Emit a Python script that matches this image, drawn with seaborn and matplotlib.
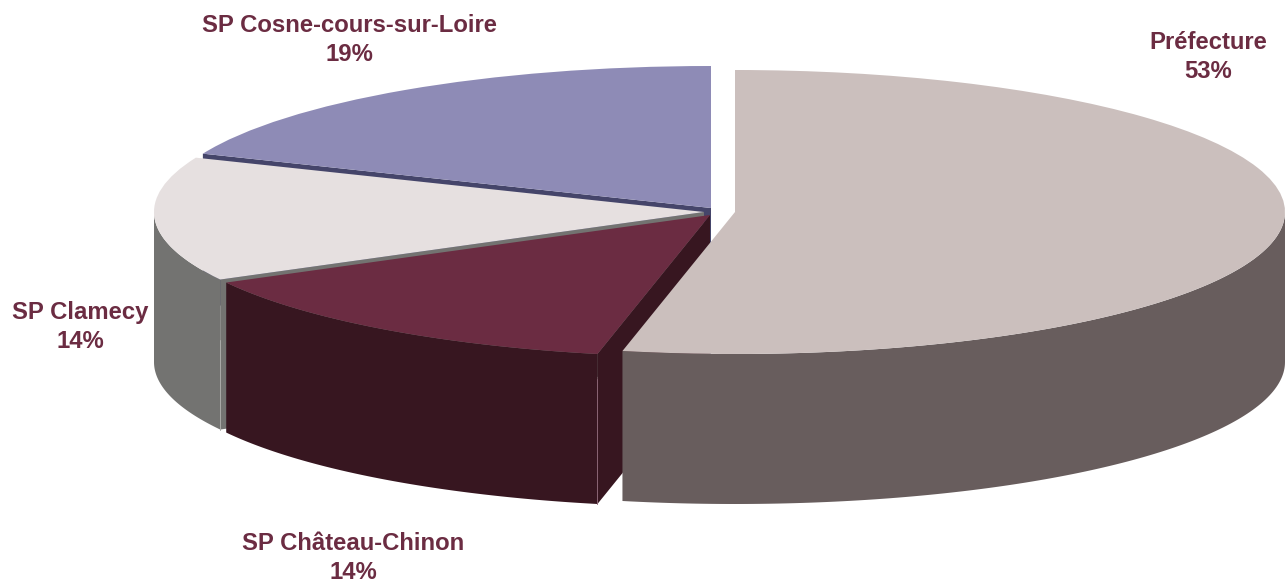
import numpy as np
import matplotlib
matplotlib.use("Agg")
import matplotlib.pyplot as plt
import seaborn as sns

# data
names = ["Préfecture", "SP Château-Chinon", "SP Clamecy", "SP Cosne-cours-sur-Loire"]
shares = [53.28, 13.83, 14.14, 18.75]

# colours
top_colors = ["#CBBFBD", "#6B2C42", "#E6E0E0", "#8E8BB6"]
side_colors = ["#685D5D", "#371620", "#737371", "#45456A"]
text_color = "#6B2C42"

# layout in pixels
W, H = 1285, 584
RX, RY, DEPTH = 550, 142, 150
centers = [(735, 212), (710, 215), (704, 212), (711, 208)]
label_pos = [(1208, 57), (353, 558), (80, 327), (349, 40)]

sns.set_theme(style="white")
plt.rcParams["font.family"] = ["Liberation Sans", "DejaVu Sans"]

k = RX / RY  # y data units per pixel, so that a round pie is seen squashed
Y = lambda py: (H - np.asarray(py, dtype=float)) * k

fig = plt.figure(figsize=(W / 100, H / 100), dpi=100)
ax = fig.add_axes([0, 0, 1, 1])

wedges, _ = ax.pie(shares, startangle=90, counterclock=False, radius=RX,
                   colors=sns.color_palette(top_colors),
                   wedgeprops=dict(linewidth=0))
ax.set_aspect("auto")
ax.set_xlim(0, W)
ax.set_ylim(0, H * k)
ax.set_axis_off()

edges = np.concatenate([[0], np.cumsum(shares)]) / np.sum(shares) * 360


def rim(i, angles):
    cx, cy = centers[i]
    t = np.radians(angles)
    return cx + RX * np.sin(t), cy - RY * np.cos(t)


def outer_side(i, a, b, z):
    x, y = rim(i, np.linspace(a, b, 120))
    ax.fill(np.r_[x, x[::-1]], Y(np.r_[y, y[::-1] + DEPTH]),
            color=side_colors[i], lw=0, zorder=z)


def cut_face(i, a, z):
    cx, cy = centers[i]
    x, y = rim(i, a)
    ax.fill([cx, x, x, cx], Y([cy, y, y + DEPTH, cy + DEPTH]),
            color=side_colors[i], lw=0, zorder=z)


def seam(i, a, lead, color, z):
    x, y = rim(i, a)
    ax.plot([x, x], Y([y + lead, y + DEPTH]), color=color, lw=0.7, zorder=z)


# back to front: Cosne, Clamecy, Château, Préfecture
cut_face(3, edges[3], 1)
wedges[3].set_center((centers[3][0], Y(centers[3][1])))
wedges[3].set_zorder(2)

outer_side(2, edges[2], 270, 3)
cut_face(2, edges[2], 3)
seam(2, edges[2], 60, "#A9A9A6", 3.5)
wedges[2].set_center((centers[2][0], Y(centers[2][1])))
wedges[2].set_zorder(4)

cut_face(1, edges[1], 5)
outer_side(1, edges[1], edges[2], 5)
seam(1, edges[1], 25, "#8A6473", 5.5)
wedges[1].set_center((centers[1][0], Y(centers[1][1])))
wedges[1].set_zorder(6)

outer_side(0, 90, edges[1], 7)
wedges[0].set_center((centers[0][0], Y(centers[0][1])))
wedges[0].set_zorder(8)

for name, share, (lx, ly) in zip(names, shares, label_pos):
    ax.text(lx, Y(ly), f"{name}\n{share:.0f}%", ha="center", va="center",
            fontsize=17.2, fontweight="bold", color=text_color, linespacing=1.38,
            zorder=10)

fig.savefig("out.png", dpi=100, facecolor="white")
